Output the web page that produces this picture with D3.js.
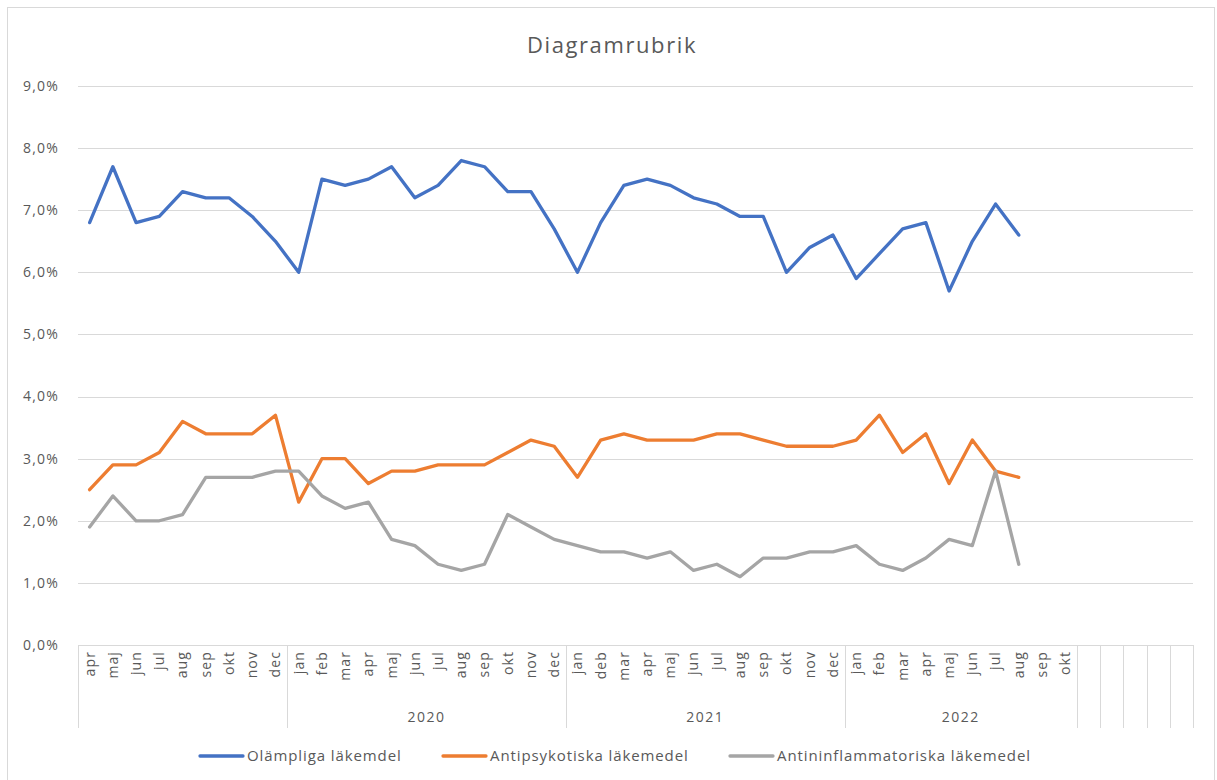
<!DOCTYPE html>
<html>
<head>
<meta charset="utf-8">
<script src="https://cdn.jsdelivr.net/npm/d3@7"></script>
<style>
  body { margin: 0; background: #fff; }
  svg { font-family: "Open Sans", sans-serif; }
</style>
</head>
<body>
<svg id="chart" width="1217" height="780"></svg>
<script>
// month tick labels, 48 slots (last five are empty)
var monthLabels = [
    "apr","maj","jun","jul","aug","sep","okt","nov","dec",
    "jan","feb","mar","apr","maj","jun","jul","aug","sep","okt","nov","dec",
    "jan","deb","mar","apr","maj","jun","jul","aug","sep","okt","nov","dec",
    "jan","feb","mar","apr","maj","jun","jul","aug","sep","okt",
    "","","","",""
];
// year groups under the months
var yearLabels = ["", "2020", "2021", "2022", "", "", "", "", ""];
var groupSizes = [9, 12, 12, 10, 1, 1, 1, 1, 1];

var seriesNames = ["Olämpliga läkemdel", "Antipsykotiska läkemedel", "Antininflammatoriska läkemedel"];
var seriesColors = ["#4472C4", "#ED7D31", "#A5A5A5"];

var olampliga = [
    6.8, 7.7, 6.8, 6.9, 7.3, 7.2, 7.2, 6.9, 6.5,
    6.0, 7.5, 7.4, 7.5, 7.7, 7.2, 7.4, 7.8, 7.7, 7.3, 7.3, 6.7,
    6.0, 6.8, 7.4, 7.5, 7.4, 7.2, 7.1, 6.9, 6.9, 6.0, 6.4, 6.6,
    5.9, 6.3, 6.7, 6.8, 5.7, 6.5, 7.1, 6.6
];
var antipsykotiska = [
    2.5, 2.9, 2.9, 3.1, 3.6, 3.4, 3.4, 3.4, 3.7,
    2.3, 3.0, 3.0, 2.6, 2.8, 2.8, 2.9, 2.9, 2.9, 3.1, 3.3, 3.2,
    2.7, 3.3, 3.4, 3.3, 3.3, 3.3, 3.4, 3.4, 3.3, 3.2, 3.2, 3.2,
    3.3, 3.7, 3.1, 3.4, 2.6, 3.3, 2.8, 2.7
];
var antiinflammatoriska = [
    1.9, 2.4, 2.0, 2.0, 2.1, 2.7, 2.7, 2.7, 2.8,
    2.8, 2.4, 2.2, 2.3, 1.7, 1.6, 1.3, 1.2, 1.3, 2.1, 1.9, 1.7,
    1.6, 1.5, 1.5, 1.4, 1.5, 1.2, 1.3, 1.1, 1.4, 1.4, 1.5, 1.5,
    1.6, 1.3, 1.2, 1.4, 1.7, 1.6, 2.8, 1.3
];
var yTicks = [0, 1, 2, 3, 4, 5, 6, 7, 8, 9];

var svg = d3.select("#chart");
var textColor = "#595959", gridColor = "#D9D9D9";
var margin = {left: 78, right: 24, top: 86, bottom: 135};
var W = 1217, H = 780;

// outer chart border
svg.append("rect")
    .attr("x", 7.5).attr("y", 7.5)
    .attr("width", 1207).attr("height", 790)
    .attr("fill", "none").attr("stroke", gridColor);

var x = d3.scaleBand()
    .domain(d3.range(monthLabels.length))
    .range([margin.left, W - margin.right])
    .padding(0);
var y = d3.scaleLinear()
    .domain([0, 9])
    .range([H - margin.bottom, margin.top]);

var locale = d3.formatLocale({decimal: ",", thousands: " ", grouping: [3], currency: ["", " kr"]});
var fmt = locale.format(".1f");

// gridlines
svg.append("g")
    .selectAll("line")
    .data(yTicks)
    .enter().append("line")
    .attr("x1", x.range()[0]).attr("x2", x.range()[1])
    .attr("y1", function(d){return Math.round(y(d)) + 0.5})
    .attr("y2", function(d){return Math.round(y(d)) + 0.5})
    .attr("stroke", gridColor).attr("stroke-width", 1);

// y labels
svg.append("g")
    .selectAll("text")
    .data(yTicks)
    .enter().append("text")
    .attr("x", 59)
    .attr("y", function(d){return y(d)})
    .attr("dy", "0.35em")
    .attr("text-anchor", "end")
    .attr("fill", textColor)
    .attr("font-size", 14)
    .attr("letter-spacing", 1.2)
    .text(function(d){return fmt(d) + "%"});

// month labels, rotated
var y0 = y(0);
svg.append("g")
    .selectAll("text")
    .data(monthLabels)
    .enter().append("text")
    .attr("transform", function(d, i){
        return "translate(" + (x(i) + x.bandwidth()/2) + "," + (y0 + 6) + ") rotate(-90)";
    })
    .attr("dy", "0.35em")
    .attr("text-anchor", "end")
    .attr("fill", textColor)
    .attr("font-size", 14)
    .attr("letter-spacing", 1.1)
    .text(function(d){return d});

// group separators and year labels
var bounds = [0];
groupSizes.forEach(function(n, i){ bounds.push(bounds[i] + n); });
var sepBottom = 728;
svg.append("g")
    .selectAll("line")
    .data(bounds)
    .enter().append("line")
    .attr("x1", function(b){return Math.round(b < monthLabels.length ? x(b) : x.range()[1]) + 0.5})
    .attr("x2", function(b){return Math.round(b < monthLabels.length ? x(b) : x.range()[1]) + 0.5})
    .attr("y1", y0).attr("y2", sepBottom)
    .attr("stroke", gridColor);

svg.append("g")
    .selectAll("text")
    .data(yearLabels)
    .enter().append("text")
    .attr("x", function(d, i){
        var a = x(bounds[i]);
        var b = bounds[i+1] < monthLabels.length ? x(bounds[i+1]) : x.range()[1];
        return (a + b) / 2;
    })
    .attr("y", 722)
    .attr("text-anchor", "middle")
    .attr("fill", textColor)
    .attr("font-size", 14)
    .attr("letter-spacing", 1.5)
    .text(function(d){return d});

// lines
var line = d3.line()
    .x(function(d, i){return x(i) + x.bandwidth()/2})
    .y(function(d){return y(d)});

[olampliga, antipsykotiska, antiinflammatoriska].forEach(function(s, k){
    svg.append("path")
        .datum(s)
        .attr("d", line)
        .attr("fill", "none")
        .attr("stroke", seriesColors[k])
        .attr("stroke-width", 3.3)
        .attr("stroke-linejoin", "round")
        .attr("stroke-linecap", "round");
});

// title
svg.append("text")
    .attr("x", 612).attr("y", 53)
    .attr("text-anchor", "middle")
    .attr("fill", textColor)
    .attr("font-size", 22)
    .attr("letter-spacing", 1.6)
    .text("Diagramrubrik");

// legend
var legendX = [200, 443, 730];
var legend = svg.append("g");
seriesNames.forEach(function(name, k){
    var g = legend.append("g").attr("transform", "translate(" + legendX[k] + ",756)");
    g.append("line")
        .attr("x1", 0).attr("x2", 43)
        .attr("stroke", seriesColors[k]).attr("stroke-width", 3.3)
        .attr("stroke-linecap", "round");
    g.append("text")
        .attr("x", 47).attr("dy", "0.35em")
        .attr("fill", textColor)
        .attr("font-size", 15)
        .attr("letter-spacing", 0.9)
        .text(name);
});
</script>
</body>
</html>
